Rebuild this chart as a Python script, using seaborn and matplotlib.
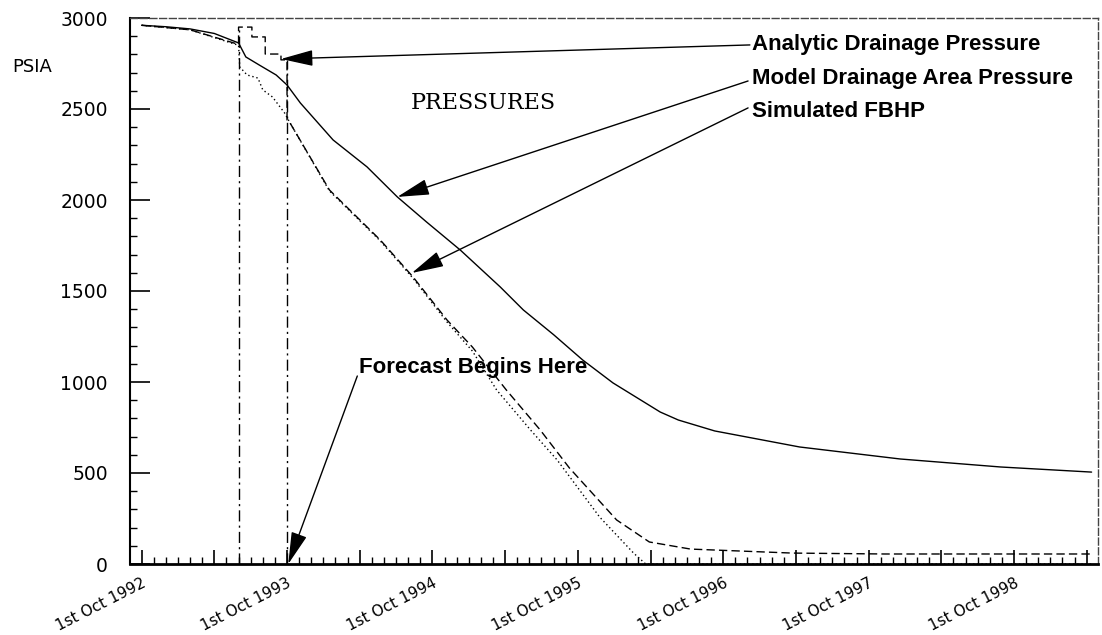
import matplotlib
matplotlib.use("Agg")
import matplotlib.pyplot as plt
import seaborn as sns
import pandas as pd
from matplotlib.ticker import MultipleLocator, FuncFormatter

# ---------------- data (x = months since 1st Oct 1992, y = PSIA) ----------------
model_months = [0, 2, 4, 6, 8, 8.6, 9.7, 11.1, 12, 13.1, 15.8, 18.6, 21.1, 23.5,
                26.3, 29.6, 31.5, 34, 36.4, 38.9, 42.8, 44.3, 47.3, 54.3, 62.6, 70.9, 78.4]
model_psia = [2960, 2952, 2940, 2915, 2863, 2786, 2742, 2687, 2632, 2533, 2330, 2182, 2017, 1880,
              1725, 1522, 1396, 1260, 1121, 995, 835, 791, 731, 643, 577, 533, 505]

analytic_months = [0, 4, 8, 8, 9.1, 9.1, 10.2, 10.2, 11.5, 11.5, 12, 12, 12.25, 15.5, 19.7, 22.4,
                   25.2, 27.3, 30.1, 32.9, 35.3, 36.2, 39.2, 41.9, 45.3, 53.7, 61.3, 78.4]
analytic_psia = [2960, 2935, 2855, 2950, 2950, 2896, 2896, 2802, 2802, 2770, 2770, 2440, 2423, 2055, 1780, 1577,
                 1341, 1192, 956, 736, 528, 462, 242, 121, 82, 60, 55, 55]

fbhp_months = [0, 4, 8, 8.1, 8.7, 9.6, 10.0, 10.8, 11.8, 12.25, 15.5, 19.7, 22.4, 25.2, 27.3,
               29.3, 32.1, 34.3, 37.8, 40.6, 41.6, 78.4]
fbhp_psia = [2960, 2935, 2850, 2731, 2687, 2670, 2605, 2566, 2478, 2423, 2050, 1775, 1570, 1330, 1170,
             956, 736, 571, 258, 60, 0, 0]

window_months = [8, 12]          # history window boundaries (Jun 1993, Oct 1993)
window_top_psia = [2950, 2770]

year_labels = ["1st Oct 1992", "1st Oct 1993", "1st Oct 1994", "1st Oct 1995",
               "1st Oct 1996", "1st Oct 1997", "1st Oct 1998"]

# ---------------- figure ----------------
sns.set_theme(style="white")
plt.rcParams["font.family"] = ["DejaVu Sans"]
plt.rcParams["text.color"] = "black"
plt.rcParams["xtick.color"] = "black"
plt.rcParams["ytick.color"] = "black"
plt.rcParams["axes.labelcolor"] = "black"

W, H = 1102, 635
fig = plt.figure(figsize=(W / 100, H / 100), dpi=100)
ax = fig.add_axes([130 / W, (H - 564) / H, (1098 - 130) / W, (564 - 18) / H])

lw = 1.0
sns.lineplot(x=model_months, y=model_psia, ax=ax, color="black", lw=lw,
             sort=False, estimator=None)
sns.lineplot(x=analytic_months, y=analytic_psia, ax=ax, color="black", lw=lw,
             ls=(0, (6, 3)), sort=False, estimator=None)
sns.lineplot(x=fbhp_months, y=fbhp_psia, ax=ax, color="black", lw=lw,
             ls=(0, (1, 2)), sort=False, estimator=None)
for m, top in zip(window_months, window_top_psia):
    sns.lineplot(x=[m, m], y=[0, top], ax=ax, color="black", lw=lw,
                 ls=(0, (8, 3, 1.5, 3)), sort=False, estimator=None)

ax.set_xlim(-0.96, 78.93)
ax.set_ylim(0, 3000)
ax.set_xlabel("")
ax.set_ylabel("")

# spines
ax.spines["left"].set_color("black")
ax.spines["left"].set_linewidth(1.5)
ax.spines["bottom"].set_color("black")
ax.spines["bottom"].set_linewidth(2.0)
for s in ["top", "right"]:
    ax.spines[s].set_color("#444444")
    ax.spines[s].set_linewidth(1.0)
    ax.spines[s].set_linestyle((0, (5, 2)))

# ticks
ax.yaxis.set_major_locator(MultipleLocator(500))
ax.yaxis.set_minor_locator(MultipleLocator(100))
ax.xaxis.set_major_locator(MultipleLocator(6))
ax.xaxis.set_minor_locator(MultipleLocator(1))


def xfmt(v, pos):
    k = int(round(v))
    if k % 12 == 0 and 0 <= k // 12 < len(year_labels):
        return year_labels[k // 12]
    return ""


ax.xaxis.set_major_formatter(FuncFormatter(xfmt))
ax.yaxis.set_major_formatter(FuncFormatter(lambda v, p: f"{int(v)}"))

ax.tick_params(axis="y", which="major", direction="in", length=14.4, width=1.2,
               left=True, right=False, labelsize=13.5, pad=16, colors="black")
ax.tick_params(axis="y", which="minor", direction="in", length=5, width=1.0,
               left=True, right=False, colors="black")
ax.tick_params(axis="x", which="major", direction="in", length=10, width=1.2,
               bottom=True, top=False, labelsize=11, pad=8, colors="black")
ax.tick_params(axis="x", which="minor", direction="in", length=5, width=1.0,
               bottom=True, top=False, colors="black")
for lab in ax.get_xticklabels():
    lab.set_rotation(27)
    lab.set_ha("right")
    lab.set_va("top")
    lab.set_rotation_mode("anchor")

# texts
fig.text(12 / W, 1 - 67 / H, "PSIA", fontsize=13, ha="left", va="center", color="black")
ax.text(28.2, 2533, "PRESSURES", fontsize=16, family="DejaVu Serif",
        ha="center", va="center", color="black")

bold = dict(fontsize=16, fontweight="bold", family="Liberation Sans",
            ha="left", va="center", color="black")
ax.text(50.4, 2852, "Analytic Drainage Pressure", **bold)
ax.text(50.4, 2665, "Model Drainage Area Pressure", **bold)
ax.text(50.4, 2484, "Simulated FBHP", **bold)
ax.text(17.9, 1077, "Forecast Begins Here", **bold)

arrow = dict(arrowstyle="-|>,head_length=1.0,head_width=0.25", color="black",
             lw=1.0, mutation_scale=20, shrinkA=0, shrinkB=0)
ax.annotate("", xy=(11.5, 2775), xytext=(50.2, 2852), arrowprops=arrow)
ax.annotate("", xy=(21.1, 2017), xytext=(50.05, 2654), arrowprops=arrow)
ax.annotate("", xy=(22.3, 1599), xytext=(50.05, 2506), arrowprops=arrow)
ax.annotate("", xy=(12.1, 0), xytext=(17.8, 1033), arrowprops=arrow)

fig.savefig("out.png", dpi=100, facecolor="white")
